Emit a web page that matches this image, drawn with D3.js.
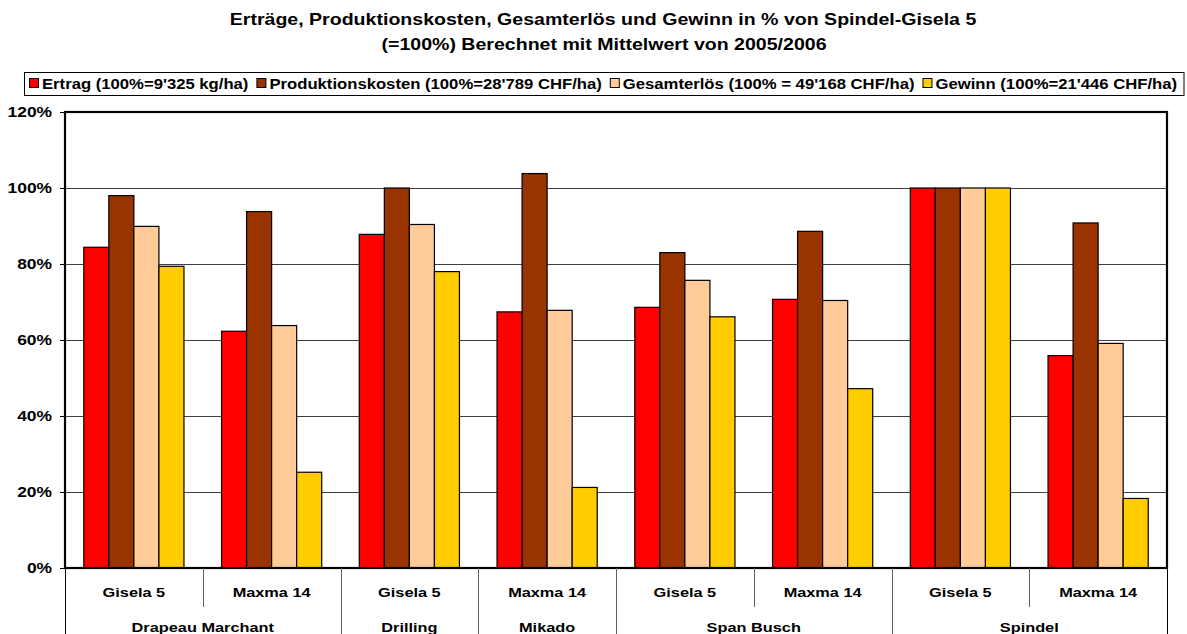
<!DOCTYPE html>
<html><head><meta charset="utf-8">
<script src="https://cdn.jsdelivr.net/npm/d3@7"></script>
<style>body{margin:0;background:#fff}svg{display:block}text{font-family:"Liberation Sans",Arial,sans-serif;font-weight:bold;fill:#000}</style>
</head><body><svg id="c" width="1187" height="634"></svg>
<script>
const titleLines = ["Erträge, Produktionskosten, Gesamterlös und Gewinn in % von Spindel-Gisela 5", "(=100%) Berechnet mit Mittelwert von 2005/2006"];
const seriesNames = ["Ertrag (100%=9'325 kg/ha)", "Produktionskosten (100%=28'789 CHF/ha)", "Gesamterlös (100% = 49'168 CHF/ha)", "Gewinn (100%=21'446 CHF/ha)"];
const seriesColors = ["#FF0000", "#993300", "#FFCC99", "#FFCC00"];
const rootstocks = ["Gisela 5", "Maxma 14", "Gisela 5", "Maxma 14", "Gisela 5", "Maxma 14", "Gisela 5", "Maxma 14"];
const systems = ["Drapeau Marchant", "Drapeau Marchant", "Drilling", "Mikado", "Span Busch", "Span Busch", "Spindel", "Spindel"];
const ertrag = [84.4, 62.3, 87.8, 67.4, 68.6, 70.7, 100, 55.9];
const produktionskosten = [98.0, 93.8, 100, 103.8, 83.0, 88.6, 100, 90.8];
const gesamterloes = [89.9, 63.8, 90.4, 67.8, 75.7, 70.4, 100, 59.1];
const gewinn = [79.4, 25.2, 78.0, 21.2, 66.1, 47.2, 100, 18.3];
const yTicks = [0, 20, 40, 60, 80, 100, 120];

const values = [ertrag, produktionskosten, gesamterloes, gewinn];
const svg = d3.select("#c");
const SX = 1.2;
const L = 65, R = 1167, T = 112, B = 568;
const keys = rootstocks.map((d, i) => i);
const x0 = d3.scaleBand().domain(keys).range([L, R]).paddingInner(0).paddingOuter(0);
const x1 = d3.scaleBand().domain(d3.range(4)).range([0, x0.bandwidth()]).paddingInner(0).paddingOuter(0.75);
const y = d3.scaleLinear().domain([0, 120]).range([B, T]);

function txt(g, s, x, yy, size, anchor) {
  return g.append("text").attr("transform", `translate(${x},${yy}) scale(${SX},1)`)
    .attr("text-anchor", anchor || "middle").style("font-size", size + "px").text(s);
}

// title
txt(svg, titleLines[0], 603, 25, 16.3);
txt(svg, titleLines[1], 604, 50, 16.3);

// legend
const lg = svg.append("g");
const legBox = lg.append("rect").attr("x", 24.5).attr("y", 72.5).attr("height", 23).attr("fill", "#fff").attr("stroke", "#000").attr("stroke-width", 1);
let lx = 29;
seriesNames.forEach((n, i) => {
  lg.append("rect").attr("x", lx + 0.5).attr("y", 78.5).attr("width", 9).attr("height", 9)
    .attr("fill", seriesColors[i]).attr("stroke", "#000").attr("stroke-width", 1);
  const t = txt(lg, n, lx + 13, 88.5, 13.9, "start");
  const w = t.node().getComputedTextLength() * SX;
  lx += 13 + w + 8;
});
legBox.attr("width", 1184 - 24.5);

// gridlines
const grid = svg.append("g");
yTicks.filter(v => v > 0 && v < 120).forEach(v => {
  grid.append("line").attr("x1", L).attr("x2", R).attr("y1", Math.round(y(v)) + 0.5).attr("y2", Math.round(y(v)) + 0.5)
    .attr("stroke", "#404040").attr("stroke-width", 1);
});

// bars
const gb = svg.append("g");
keys.forEach(k => {
  values.forEach((arr, s) => {
    const xx = x0(k) + x1(s);
    gb.append("rect").attr("x", xx).attr("y", y(arr[k])).attr("width", x1.bandwidth()).attr("height", B - y(arr[k]))
      .attr("fill", seriesColors[s]).attr("stroke", "#000").attr("stroke-width", 1.2);
  });
});

// y axis
const yAxis = d3.axisLeft(y).tickValues(yTicks).tickSize(5).tickFormat(d => d + "%");
const ya = svg.append("g").attr("transform", `translate(${L},0)`).call(yAxis);
ya.select(".domain").remove();
ya.selectAll(".tick line").attr("stroke", "#000");
ya.selectAll(".tick text").remove();
yTicks.forEach(v => txt(svg, v + "%", 52, y(v) + 5, 14.5, "end"));

// plot frame
svg.append("rect").attr("x", L).attr("y", T).attr("width", R - L).attr("height", B - T)
  .attr("fill", "none").attr("stroke", "#000").attr("stroke-width", 2.2);

// category axis
const ax = svg.append("g");
keys.forEach(k => {
  txt(ax, rootstocks[k], x0(k) + x0.bandwidth() / 2, 597, 13.6);
});
keys.forEach(k => {
  const xs = Math.round(x0(k)) + 0.5;
  const newGroup = k === 0 || systems[k] !== systems[k - 1];
  ax.append("line").attr("x1", xs).attr("x2", xs).attr("y1", B).attr("y2", newGroup ? 634 : 607)
    .attr("stroke", newGroup && k === 0 ? "#000" : "#606060").attr("stroke-width", 1);
});
ax.append("line").attr("x1", R + 0.5).attr("x2", R + 0.5).attr("y1", B).attr("y2", 634).attr("stroke", "#000");
const outer = [];
systems.forEach((s, i) => {
  if (i === 0 || s !== systems[i - 1]) outer.push({ name: s, start: i, end: i });
  else outer[outer.length - 1].end = i;
});
outer.forEach(o => {
  const xa = x0(o.start), xb = x0(o.end) + x0.bandwidth();
  txt(ax, o.name, (xa + xb) / 2, 632, 13.6);
});
</script></body></html>
